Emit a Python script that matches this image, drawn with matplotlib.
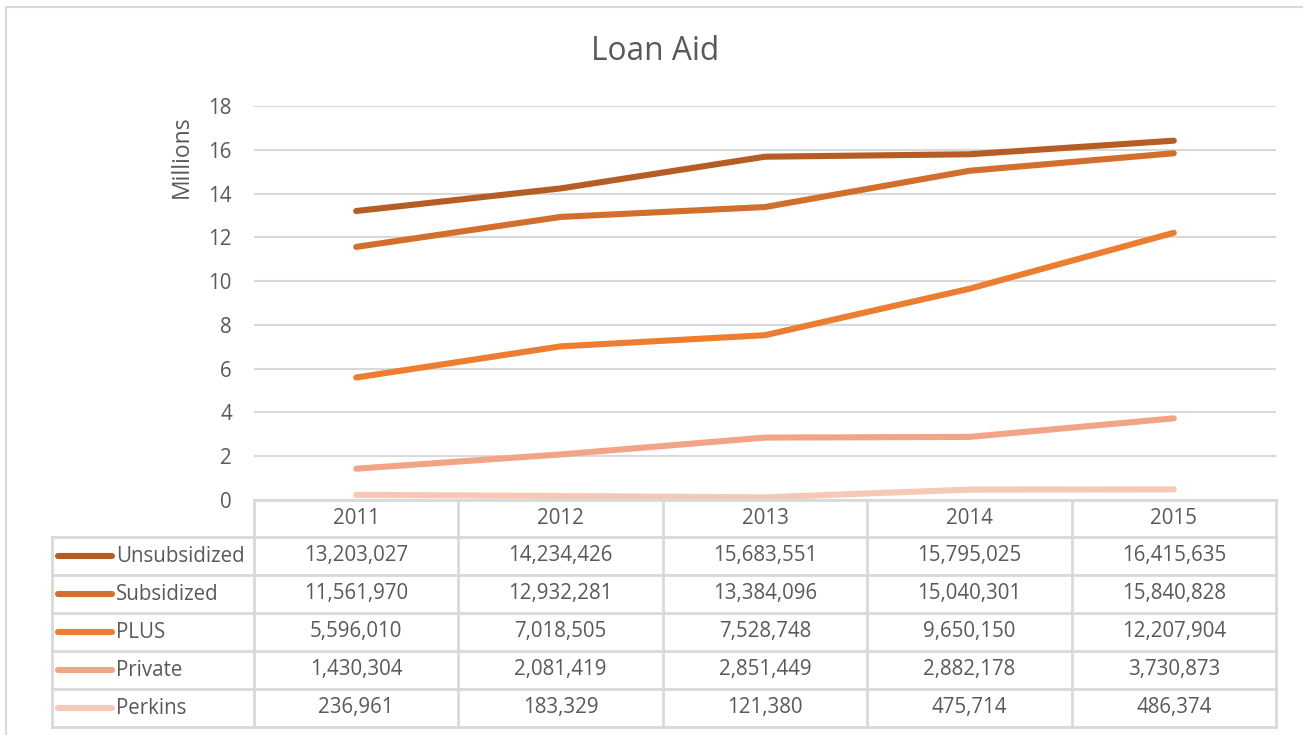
import matplotlib
matplotlib.use("Agg")
import matplotlib.pyplot as plt
import matplotlib.transforms as mtransforms
from matplotlib.lines import Line2D
from matplotlib.patches import Rectangle
import numpy as np

# loan aid per year, in dollars
years = ['2011', '2012', '2013', '2014', '2015']
series = ['Unsubsidized', 'Subsidized', 'PLUS', 'Private', 'Perkins']
unsubsidized = [13203027, 14234426, 15683551, 15795025, 16415635]
subsidized = [11561970, 12932281, 13384096, 15040301, 15840828]
plus = [5596010, 7018505, 7528748, 9650150, 12207904]
private = [1430304, 2081419, 2851449, 2882178, 3730873]
perkins = [236961, 183329, 121380, 475714, 486374]
values = [unsubsidized, subsidized, plus, private, perkins]
colors = ['#B55D24', '#D26F2D', '#ED7D31', '#F2A486', '#F6C8B6']

plt.rcParams['font.family'] = ['Open Sans', 'DejaVu Sans']
text_color = '#595959'
grid_color = '#D9D9D9'

W, H = 1303, 735
fig = plt.figure(figsize=(W / 100, H / 100), dpi=100)

# helpers: pixel position (from top-left) to figure fraction
def fx(px):
    return px / W

def fy(py):
    return 1 - py / H

# outer chart border
fig.add_artist(Rectangle((fx(6), fy(745)), fx(1320) - fx(6), fy(7) - fy(745),
                         transform=fig.transFigure, fill=False,
                         edgecolor=grid_color, lw=1.5))

ax = fig.add_axes([fx(254), fy(500), fx(1276) - fx(254), fy(106) - fy(500)])
x = np.arange(len(years))
for vals, col in zip(values, colors):
    ax.plot(x, np.array(vals) / 1e6, color=col, lw=4.4,
            solid_capstyle='round', zorder=3)

ax.set_xlim(-0.5, len(years) - 0.5)
ax.set_ylim(0, 18)
ax.set_yticks(np.arange(0, 19, 2))
ax.set_xticks([])
ax.tick_params(axis='y', length=0, pad=16, labelsize=14.8, labelcolor=text_color)
ax.grid(axis='y', color=grid_color, lw=1.5)
for s in ax.spines.values():
    s.set_visible(False)
ax.set_axisbelow(True)

fig.text(fx(182), fy(157), 'Millions', rotation=90, ha='center', va='center',
         fontsize=16.5, color=text_color)
fig.text(fx(655), fy(52), 'Loan Aid', ha='center', va='center',
         fontsize=22.8, color=text_color)

# data table under the axis
blend = mtransforms.blended_transform_factory(ax.transData, fig.transFigure)
row_edges = [500, 537, 575, 613, 651, 689, 727]
lo, hi = -0.5, len(years) - 0.5
left_px = 52

def hline(y_px, x0_fig, x1_data):
    # from a figure x position to a data x position
    x0_data = ax.transData.inverted().transform(
        fig.transFigure.transform((x0_fig, 0)))[0]
    fig.add_artist(Line2D([x0_data, x1_data], [fy(y_px)] * 2, transform=blend,
                          color=grid_color, lw=2))

hline(row_edges[0], fx(254), hi)
for r in row_edges[1:]:
    hline(r, fx(left_px), hi)
for i in range(len(years) + 1):
    fig.add_artist(Line2D([lo + i] * 2, [fy(row_edges[0]), fy(row_edges[-1])],
                          transform=blend, color=grid_color, lw=2))
fig.add_artist(Line2D([fx(left_px)] * 2, [fy(row_edges[1]), fy(row_edges[-1])],
                      transform=fig.transFigure, color=grid_color, lw=2))

for j, yr in enumerate(years):
    yc = (row_edges[0] + row_edges[1]) / 2
    fig.text(j, fy(yc), yr, transform=blend, ha='center', va='center',
             fontsize=14.8, color=text_color)

for i, (name, vals, col) in enumerate(zip(series, values, colors)):
    yc = (row_edges[i + 1] + row_edges[i + 2]) / 2
    fig.add_artist(Line2D([fx(58), fx(112)], [fy(yc)] * 2,
                          transform=fig.transFigure, color=col, lw=4.4,
                          solid_capstyle='round'))
    fig.text(fx(116), fy(yc), name, ha='left', va='center',
             fontsize=14.8, color=text_color)
    for j, v in enumerate(vals):
        fig.text(j, fy(yc), f'{v:,}', transform=blend, ha='center',
                 va='center', fontsize=14.8, color=text_color)

fig.savefig('out.png', dpi=100)
